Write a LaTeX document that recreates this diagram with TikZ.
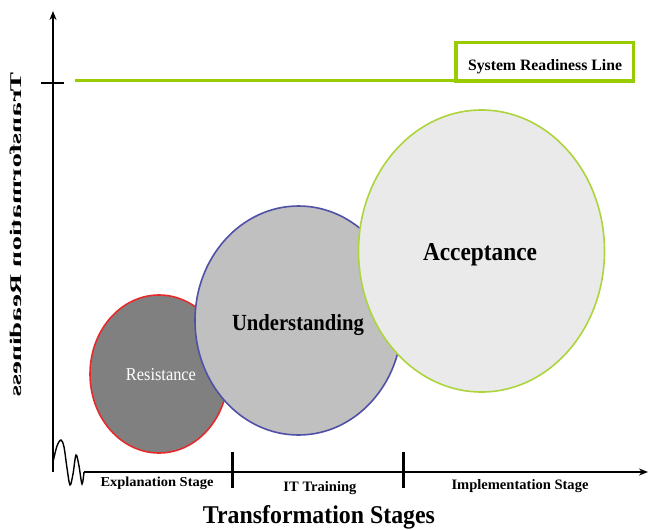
\documentclass[tikz,border=0pt]{standalone}
\usepackage{fontspec}
\setmainfont{Liberation Serif}
\usetikzlibrary{arrows.meta,shapes.geometric}
\definecolor{readygreen}{HTML}{99CC00}
\definecolor{resistfill}{HTML}{808080}
\definecolor{resistedge}{HTML}{E52B2B}
\definecolor{underfill}{HTML}{C0C0C0}
\definecolor{underedge}{HTML}{5050A6}
\definecolor{acceptfill}{HTML}{EAEAEA}
\definecolor{acceptedge}{HTML}{ADD43C}
\begin{document}
\begin{tikzpicture}[x=1pt,y=-1pt,
  axis/.style={line width=1.6pt,black},
  axistip/.style={-{Stealth[length=9pt,width=7pt]}},
  stagetick/.style={line width=3pt,black},
  squig/.style={line width=1.4pt,black},
  bubble/.style={ellipse,line width=1.6pt,inner sep=0pt},
  lbl/.style={inner sep=0pt,anchor=base}]
\useasboundingbox (0,0) rectangle (648,530);

% axes
\coordinate (ytop) at (53,11);
\coordinate (ybot) at (53,472);
\coordinate (xstart) at (84,472);
\coordinate (xend) at (648,472);
\draw[axis,axistip] (ybot) -- (ytop);
\draw[axis,axistip] (xstart) -- (xend);

% broken-axis squiggle at the origin
\draw[squig] plot[smooth,tension=0.55] coordinates
  {(53,462) (57,446) (61,440) (64,447) (67,468) (70,485) (73,474) (76,455) (79,466) (82,484) (84,472)};

% readiness level tick and line
\coordinate (rtickl) at (41,83);
\coordinate (rtickr) at (64,83);
\draw[line width=2.6pt] (rtickl) -- (rtickr);
\node[draw=readygreen,line width=3.5pt,minimum width=177.5pt,minimum height=38.5pt,inner sep=0pt]
  (srl) at (544.5,61.5) {};
\node[lbl] (srltext) at (545,70) {\resizebox{154pt}{11pt}{\bfseries System Readiness Line}};
\coordinate (rlstart) at (75,80.75);
\draw[readygreen,line width=3.2pt] (rlstart) -- (rlstart -| srl.south west);

% stage dividers
\coordinate (t1a) at (232,452);
\coordinate (t1b) at (232,488);
\coordinate (t2a) at (403,452);
\coordinate (t2b) at (403,488);
\draw[stagetick] (t1a) -- (t1b);
\draw[stagetick] (t2a) -- (t2b);

% stage names
\node[lbl] (s1) at (157,486.5) {\resizebox{113pt}{9.5pt}{\bfseries Explanation Stage}};
\node[lbl] (s2) at (320,491) {\resizebox{73pt}{10pt}{\bfseries IT Training}};
\node[lbl] (s3) at (520,489) {\resizebox{137pt}{10pt}{\bfseries Implementation Stage}};

% axis titles
\node[lbl] (xtitle) at (319,523) {\resizebox{232pt}{18pt}{\bfseries Transformation Stages}};
\node[lbl,cm={0,-1,-1,0,(0,0)}] (ytitle) at (21,235)
  {\resizebox{324pt}{11.5pt}{\bfseries Transformation Readiness}};

% stage bubbles
\node[bubble,draw=resistedge,fill=resistfill,minimum width=138pt,minimum height=158pt]
  (resist) at (159,374) {};
\node[bubble,draw=underedge,fill=underfill,minimum width=207pt,minimum height=229pt]
  (under) at (298.5,320.5) {};
\node[bubble,draw=acceptedge,fill=acceptfill,minimum width=246pt,minimum height=282pt]
  (accept) at (481.5,251) {};

\node[lbl,white] (resisttext) at (161,380) {\resizebox{70pt}{12pt}{Resistance}};
\node[lbl] (undertext) at (298,330) {\resizebox{132pt}{16pt}{\bfseries Understanding}};
\node[lbl] (accepttext) at (480,260) {\resizebox{114pt}{17pt}{\bfseries Acceptance}};
\end{tikzpicture}
\end{document}
